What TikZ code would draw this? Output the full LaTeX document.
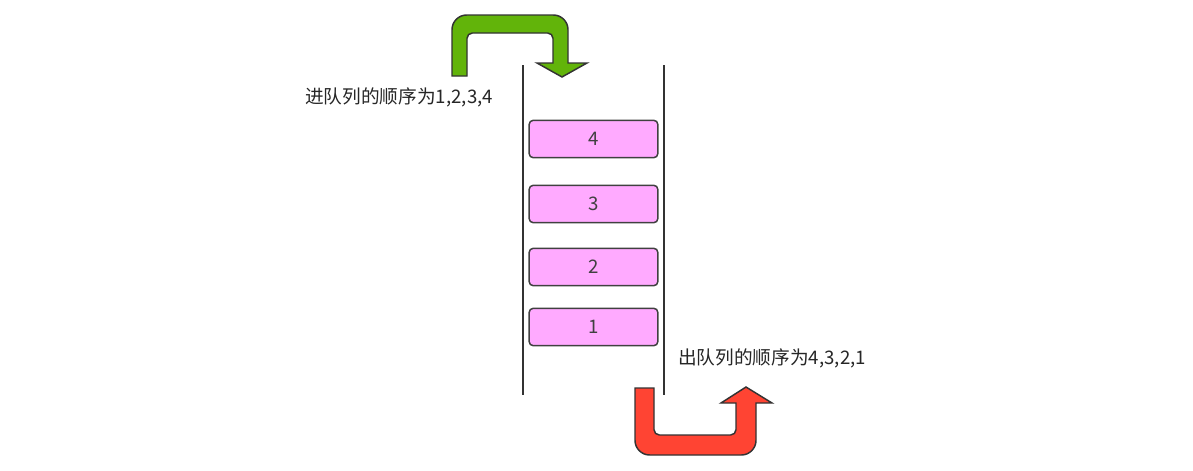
\documentclass[tikz,border=0pt]{standalone}
\usepackage{fontspec}
\setmainfont{Noto Sans CJK SC}
\begin{document}
\begin{tikzpicture}[x=0.75pt,y=-0.75pt,
  item/.style={draw=black!75,line width=1.1pt,fill=itemfill,rounded corners=3pt,minimum width=96.5pt,minimum height=28pt,inner sep=0pt,text=black!75,font=\fontsize{14}{16}\selectfont},
  wall/.style={line width=1.4pt,draw=black!80},
  bigarrow/.style={line width=1.1pt,draw=black!80},
  lbl/.style={text=black!85,font=\fontsize{14}{16}\selectfont,inner sep=0pt}]
\definecolor{itemfill}{HTML}{FFAAFF}
\definecolor{greenA}{HTML}{62B40A}
\definecolor{redA}{HTML}{FF4433}
\useasboundingbox (0,0) rectangle (1193,471);
% walls
\coordinate (lt) at (523,65); \coordinate (lb) at (523,395);
\coordinate (rt) at (664,65); \coordinate (rb) at (664,395);
\draw[wall] (lt) -- (lb);
\draw[wall] (rt) -- (rb);
% items
\node[item] (n4) at (593.5,139) {4};
\node[item] (n3) at (593.5,204) {3};
\node[item] (n2) at (593.5,267) {2};
\node[item] (n1) at (593.5,327) {1};
% labels
\node[lbl,anchor=west] (inlbl) at (305,97) {进队列的顺序为1,2,3,4};
\node[lbl,anchor=west] (outlbl) at (678,358) {出队列的顺序为4,3,2,1};
% green arrow
\draw[bigarrow,fill=greenA] (452,76) [rounded corners=11pt] -- (452,15) -- (568,15) [sharp corners] -- (568,63) -- (587,63) -- (562,77) -- (537,63) -- (553,63) [rounded corners=4pt] -- (553,33) -- (467,33) [sharp corners] -- (467,76) -- cycle;
% red arrow
\draw[bigarrow,fill=redA] (635,388) [rounded corners=11pt] -- (635,455) -- (756,455) [sharp corners] -- (756,403) -- (772,403) -- (746,387) -- (721,403) -- (736,403) [rounded corners=4pt] -- (736,435) -- (654,435) [sharp corners] -- (654,388) -- cycle;
\end{tikzpicture}
\end{document}
